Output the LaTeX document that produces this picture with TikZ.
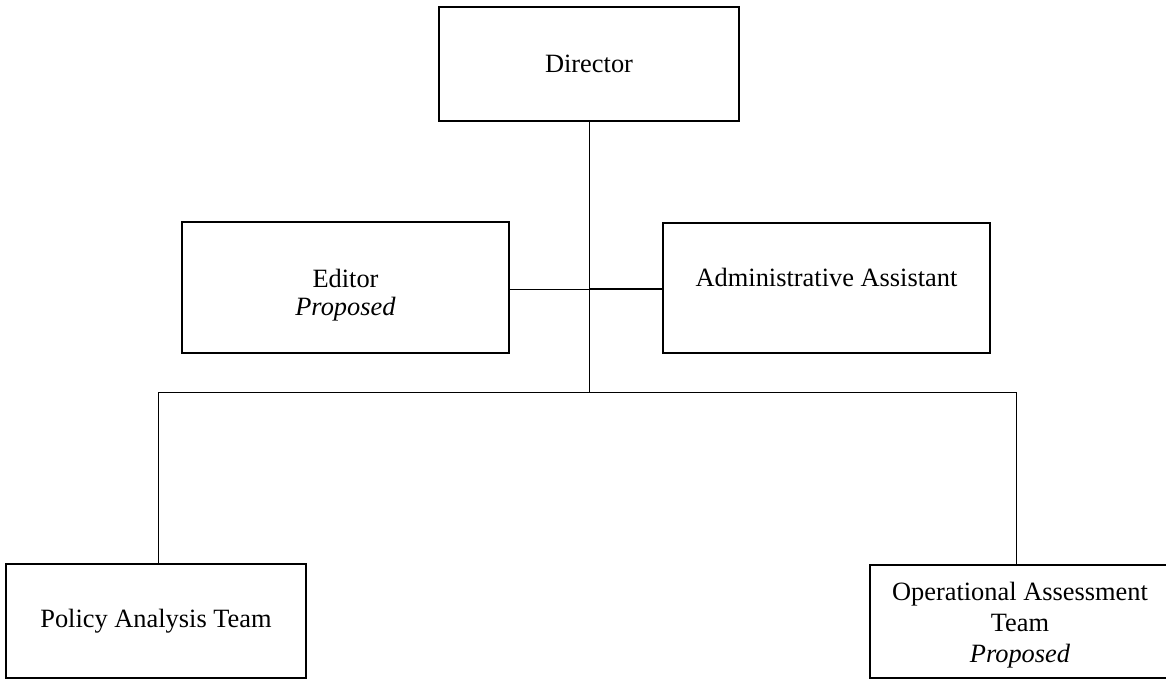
\documentclass[tikz,border=0pt]{standalone}
\usepackage{fontspec}
\setmainfont{Liberation Serif}
% shift a label vertically without changing its reported size
\newcommand{\shiftlabel}[2]{\raisebox{#1}[\height][\depth]{\begin{tabular}{@{}c@{}}#2\end{tabular}}}
\begin{document}
\begin{tikzpicture}[x=1pt,y=-1pt,
  unitbox/.style={draw, line width=1.6pt, inner sep=0pt, align=center,
    font=\fontsize{26.4}{31}\selectfont},
  link/.style={line width=1pt}]
\useasboundingbox (0,0) rectangle (1166,679);

% positions
\node[unitbox, minimum width=300, minimum height=114] (dir) at (589,64) {Director};
\node[unitbox, minimum width=327, minimum height=131,
  font=\fontsize{26.4}{28}\selectfont] (ed) at (345.5,287.5)
  {\shiftlabel{-8.5pt}{Editor\\\textit{Proposed}}};
\node[unitbox, minimum width=327, minimum height=130] (adm) at (826.5,288)
  {\shiftlabel{8pt}{Administrative Assistant}};
\node[unitbox, minimum width=300, minimum height=114] (pol) at (156,621) {Policy Analysis Team};
\node[unitbox, minimum width=300, minimum height=113] (ops) at (1020,621.5)
  {\shiftlabel{-4pt}{Operational Assessment\\Team\\\textit{Proposed}}};

% junction points on the trunk and the lower bar
\coordinate (mid) at (589,289);
\coordinate (barmid) at (589,392);
\coordinate (barL) at (158,392);
\coordinate (barR) at (1016,392);

% connectors
\draw[link] (dir.south) -- (barmid);
\draw[link] (ed.east |- mid) -- (mid);
\draw[line width=1.6pt] (mid) -- (adm.west |- mid);
\draw[link] (barL) -- (barR);
\draw[link] (barL) -- (barL |- pol.north);
\draw[link] (barR) -- (barR |- ops.north);
\end{tikzpicture}
\end{document}
